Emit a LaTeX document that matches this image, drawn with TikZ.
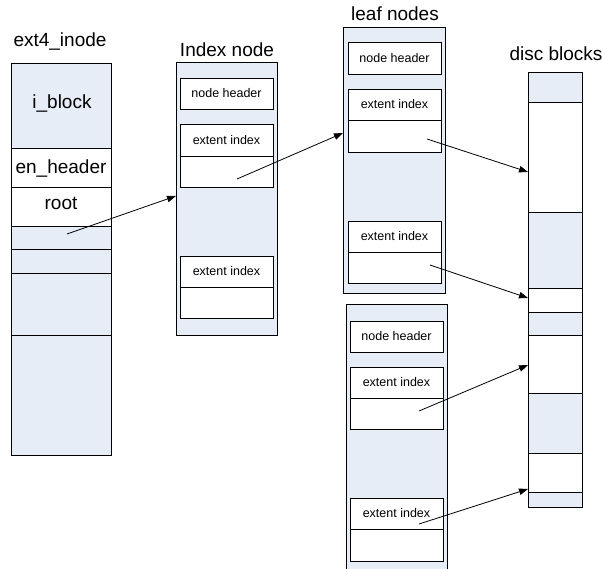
\documentclass[tikz,border=0pt]{standalone}
\usepackage{fontspec}
\setmainfont{Liberation Sans}
\usetikzlibrary{arrows.meta}
\definecolor{cellblue}{RGB}{230,237,247}
\tikzset{
  outer/.style={draw=black, line width=0.8pt, fill=cellblue, rectangle, inner sep=0pt},
  bcell/.style={draw=black, line width=0.8pt, fill=cellblue, rectangle, inner sep=0pt},
  wcell/.style={draw=black, line width=0.8pt, fill=white, rectangle, inner sep=0pt,
     font=\fontsize{12.5}{15}\selectfont},
  bigtxt/.style={inner sep=0pt, anchor=base, font=\fontsize{19}{22}\selectfont},
  conn/.style={draw=black, line width=0.8pt, -{Triangle[length=9pt,width=6.5pt]}}
}
\begin{document}
\begin{tikzpicture}[x=1pt,y=-1pt]
\useasboundingbox (0,0) rectangle (603,569);
\begin{scope}
\clip (0,0) rectangle (603,569);
% ---------- ext4_inode ----------
\node[bigtxt] (lbl_inode) at (60,47) {ext4\_inode};
\node[outer, minimum width=100pt, minimum height=392pt] (inode) at (61,259) {};
\node[bcell, minimum width=100pt, minimum height=85pt] (iblock) at (61,105.5) {};
\node[wcell, minimum width=100pt, minimum height=39pt] (enh) at (61,167.5) {};
\node[wcell, minimum width=100pt, minimum height=39pt] (root) at (61,206.5) {};
\node[bcell, minimum width=100pt, minimum height=23pt] (ic1) at (61,237.5) {};
\node[bcell, minimum width=100pt, minimum height=24pt] (ic2) at (61,261) {};
\node[bcell, minimum width=100pt, minimum height=62pt] (ic3) at (61,304) {};
\node[bcell, minimum width=100pt, minimum height=120pt] (ic4) at (61,395) {};
\node[bigtxt] (t_iblock) at (62,109) {i\_block};
\node[bigtxt] (t_enh) at (61,174) {en\_header};
\node[bigtxt] (t_root) at (61,210) {root};
% ---------- Index node ----------
\node[bigtxt] (lbl_idx) at (227,57) {Index node};
\node[outer, minimum width=101pt, minimum height=273pt] (idx) at (226.5,198.5) {};
\node[wcell, minimum width=93pt, minimum height=31pt] (idx_nh) at (226.5,93.5) {node header};
\node[wcell, minimum width=93pt, minimum height=32pt] (idx_e1a) at (226.5,140) {extent index};
\node[wcell, minimum width=93pt, minimum height=31pt] (idx_e1b) at (226.5,171.5) {};
\node[wcell, minimum width=93pt, minimum height=31pt] (idx_e2a) at (226.5,271.5) {extent index};
\node[wcell, minimum width=93pt, minimum height=31pt] (idx_e2b) at (226.5,302.5) {};
% ---------- leaf node 1 ----------
\node[bigtxt] (lbl_leaf) at (395,21) {leaf nodes};
\node[outer, minimum width=102pt, minimum height=266pt] (leaf1) at (394,160) {};
\node[wcell, minimum width=93pt, minimum height=32pt] (l1_nh) at (394.5,58) {node header};
\node[wcell, minimum width=93pt, minimum height=31pt] (l1_e1a) at (394.5,104.5) {extent index};
\node[wcell, minimum width=93pt, minimum height=32pt] (l1_e1b) at (394.5,136) {};
\node[wcell, minimum width=93pt, minimum height=31pt] (l1_e2a) at (394.5,236.5) {extent index};
\node[wcell, minimum width=93pt, minimum height=31pt] (l1_e2b) at (394.5,267.5) {};
% ---------- leaf node 2 ----------
\node[outer, minimum width=101pt, minimum height=280pt] (leaf2) at (396.5,444) {};
\node[wcell, minimum width=93pt, minimum height=31pt] (l2_nh) at (396.5,336.5) {node header};
\node[wcell, minimum width=93pt, minimum height=31pt] (l2_e1a) at (396.5,382.5) {extent index};
\node[wcell, minimum width=93pt, minimum height=31pt] (l2_e1b) at (396.5,413.5) {};
\node[wcell, minimum width=93pt, minimum height=31pt] (l2_e2a) at (396.5,513.5) {extent index};
\node[wcell, minimum width=93pt, minimum height=32pt] (l2_e2b) at (396.5,545) {};
% ---------- disc blocks ----------
\node[bigtxt] (lbl_disc) at (556,61) {disc blocks};
\node[bcell, minimum width=54pt, minimum height=30pt] (d1) at (555,87) {};
\node[wcell, minimum width=54pt, minimum height=110pt] (d2) at (555,157) {};
\node[bcell, minimum width=54pt, minimum height=76pt] (d3) at (555,250) {};
\node[wcell, minimum width=54pt, minimum height=24pt] (d4) at (555,300) {};
\node[bcell, minimum width=54pt, minimum height=23pt] (d5) at (555,323.5) {};
\node[wcell, minimum width=54pt, minimum height=58pt] (d6) at (555,364) {};
\node[bcell, minimum width=54pt, minimum height=60pt] (d7) at (555,423) {};
\node[wcell, minimum width=54pt, minimum height=39pt] (d8) at (555,472.5) {};
\node[bcell, minimum width=54pt, minimum height=15pt] (d9) at (555,499.5) {};
\end{scope}
% ---------- connector end points ----------
\coordinate (s1) at (67,234);
\coordinate (e1) at (176,196);
\coordinate (s2) at (237,179);
\coordinate (e2) at (343,133);
\coordinate (s3) at (427,139);
\coordinate (e3) at (528,172);
\coordinate (s4) at (430,265);
\coordinate (e4) at (528,298);
\coordinate (s5) at (419,411);
\coordinate (e5) at (528,365);
\coordinate (s6) at (419,524);
\coordinate (e6) at (528,489);
\draw[conn] (s1) -- (e1);
\draw[conn] (s2) -- (e2);
\draw[conn] (s3) -- (e3);
\draw[conn] (s4) -- (e4);
\draw[conn] (s5) -- (e5);
\draw[conn] (s6) -- (e6);
\end{tikzpicture}
\end{document}
